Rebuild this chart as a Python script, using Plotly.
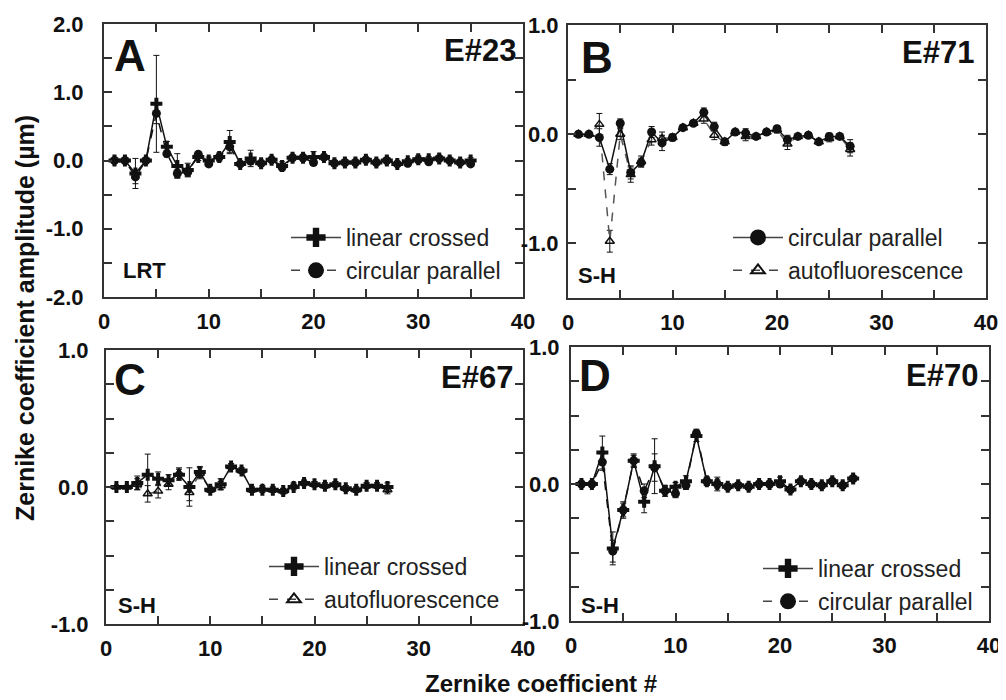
import plotly.graph_objects as go

W, H = 1006, 700          # window size
OFF = 8                   # default body margin of the html page
FW, FH = W - OFF, H - OFF  # figure size so that it fits the window exactly

# ---------------- data ----------------
A_x = list(range(1, 36))
A_lin = [0, 0, -0.19, 0, 0.83, 0.2, -0.08, -0.14, 0.05, 0.0, 0.05, 0.27, -0.05, 0.03, -0.04, 0.01, -0.08, 0.04,
         0.04, 0.05, 0.05, -0.04, -0.03, -0.03, 0.01, -0.03, 0.0, -0.05, -0.01, 0.02, 0.02, 0.03, 0.0, -0.03, 0.0]
A_lin_err = [0.01, 0.01, 0.22, 0.01, 0.71, 0.08, 0.18, 0.1, 0.05, 0.05, 0.06, 0.17, 0.03, 0.12, 0.03, 0.03, 0.06, 0.03,
             0.05, 0.08, 0.03, 0.03, 0.02, 0.03, 0.03, 0.02, 0.03, 0.03, 0.04, 0.05, 0.04, 0.02, 0.02, 0.02, 0.04]
A_circ = [0, 0, -0.24, 0, 0.69, 0.1, -0.19, -0.17, 0.09, -0.05, 0.05, 0.2, -0.05, -0.01, -0.04, 0.01, -0.1, 0.04,
          0.04, -0.03, 0.05, -0.04, -0.03, -0.03, 0.01, -0.03, 0.0, -0.05, -0.04, 0.01, -0.02, 0.03, 0.0, -0.03, -0.05]
A_circ_err = [0.01, 0.01, 0.1, 0.01, 0.15, 0.05, 0.06, 0.06, 0.04, 0.04, 0.04, 0.08, 0.03, 0.05, 0.03, 0.03, 0.05, 0.03,
              0.03, 0.04, 0.03, 0.03, 0.02, 0.03, 0.03, 0.02, 0.03, 0.03, 0.03, 0.03, 0.03, 0.02, 0.02, 0.02, 0.03]

B_x = list(range(1, 28))
B_circ = [0, 0, -0.03, -0.32, 0.1, -0.35, -0.26, 0.02, -0.08, -0.03, 0.06, 0.1, 0.2, 0.07, -0.07, 0.02, 0.01, -0.02,
          0.02, 0.05, -0.05, -0.02, -0.01, -0.07, -0.02, -0.02, -0.11]
B_circ_err = [0.01, 0.01, 0.08, 0.05, 0.04, 0.06, 0.04, 0.05, 0.07, 0.03, 0.02, 0.02, 0.04, 0.04, 0.03, 0.02, 0.04,
              0.02, 0.02, 0.03, 0.04, 0.02, 0.02, 0.02, 0.03, 0.02, 0.06]
B_auto = [0, 0, 0.09, -0.98, 0.0, -0.37, -0.25, -0.05, -0.04, -0.03, 0.06, 0.1, 0.14, -0.01, -0.07, 0.02, -0.02, -0.02,
          0.02, 0.04, -0.09, -0.02, -0.01, -0.07, -0.04, -0.02, -0.14]
B_auto_err = [0.01, 0.01, 0.1, 0.1, 0.05, 0.07, 0.05, 0.05, 0.06, 0.03, 0.02, 0.02, 0.04, 0.04, 0.03, 0.02, 0.04,
              0.02, 0.02, 0.03, 0.05, 0.02, 0.02, 0.02, 0.03, 0.02, 0.06]

C_x = list(range(1, 28))
C_lin = [0, 0, 0.03, 0.09, 0.06, 0.05, 0.09, 0.0, 0.11, -0.02, 0.02, 0.15, 0.12, -0.02, -0.02, -0.02, -0.03, 0.0,
         0.03, 0.02, 0.01, 0.02, -0.01, -0.02, 0.01, 0.01, 0.0]
C_lin_err = [0.01, 0.01, 0.05, 0.15, 0.05, 0.04, 0.04, 0.14, 0.04, 0.02, 0.04, 0.02, 0.02, 0.02, 0.02, 0.02, 0.02,
             0.02, 0.02, 0.02, 0.02, 0.02, 0.02, 0.02, 0.02, 0.02, 0.03]
C_auto = [0, 0, 0.02, -0.05, -0.03, 0.02, 0.1, -0.04, 0.1, -0.02, 0.01, 0.15, 0.12, -0.02, -0.01, -0.02, -0.03, 0.01,
          0.03, 0.02, 0.01, 0.02, -0.01, -0.02, 0.01, 0.01, -0.02]
C_auto_err = [0.01, 0.01, 0.04, 0.06, 0.05, 0.04, 0.04, 0.06, 0.04, 0.02, 0.03, 0.02, 0.02, 0.02, 0.02, 0.02, 0.02,
              0.02, 0.02, 0.02, 0.02, 0.02, 0.02, 0.02, 0.02, 0.02, 0.03]

D_x = list(range(1, 28))
D_lin = [0, 0, 0.23, -0.47, -0.19, 0.17, -0.13, 0.13, -0.05, -0.02, 0.02, 0.35, 0.02, 0.0, -0.02, -0.01, -0.02, 0.0,
         0.0, 0.02, -0.04, 0.02, 0.0, -0.01, 0.02, -0.01, 0.04]
D_lin_err = [0.01, 0.01, 0.12, 0.12, 0.06, 0.05, 0.08, 0.2, 0.04, 0.03, 0.04, 0.04, 0.03, 0.05, 0.02, 0.02, 0.02,
             0.02, 0.02, 0.03, 0.02, 0.02, 0.02, 0.02, 0.02, 0.02, 0.02]
D_circ = [0, 0, 0.16, -0.49, -0.19, 0.17, -0.05, 0.12, -0.05, -0.07, -0.01, 0.37, 0.02, 0.0, -0.02, -0.01, -0.02, 0.0,
          0.0, 0.0, -0.04, 0.02, 0.0, -0.01, 0.02, -0.01, 0.04]
D_circ_err = [0.01, 0.01, 0.06, 0.08, 0.05, 0.04, 0.05, 0.1, 0.03, 0.03, 0.03, 0.03, 0.03, 0.03, 0.02, 0.02, 0.02,
              0.02, 0.02, 0.02, 0.02, 0.02, 0.02, 0.02, 0.02, 0.02, 0.02]

# y tick labels per panel (hyphen-minus as in the original figure)
A_yticks = [-2, -1, 0, 1, 2]
B_yticks = [-1, 0, 1]
C_yticks = [-1, 0, 1]
D_yticks = [-1, 0, 1]

# ---------------- styling helpers ----------------
FONT = "Liberation Sans"
INK = "#111111"
AX = "#333333"


def px(x):
    """window pixel x -> paper fraction"""
    return (x - OFF) / FW


def py(y):
    """window pixel y -> paper fraction"""
    return 1 - (y - OFF) / FH


fig = go.Figure()

STY = {
    "lin": dict(symbol="cross", size=10, color=INK, line=dict(width=0)),
    "circ": dict(symbol="circle", size=9, color=INK, line=dict(width=0)),
    "auto": dict(symbol="triangle-up-open", size=8, color=INK, line=dict(width=1.5, color=INK)),
}
LEGSTY = {
    "lin": dict(symbol="cross", size=16, color=INK, line=dict(width=0)),
    "circ": dict(symbol="circle", size=16, color=INK, line=dict(width=0)),
    "auto": dict(symbol="triangle-up-open", size=12, color=INK, line=dict(width=2, color=INK)),
}
NAMES = {"lin": "linear crossed", "circ": "circular parallel", "auto": "autofluorescence"}


def add_series(x, y, err, kind, dash, ax_i, legname, rank, lcolor=INK):
    xa = "x" if ax_i == 1 else f"x{ax_i}"
    ya = "y" if ax_i == 1 else f"y{ax_i}"
    fig.add_trace(go.Scatter(
        x=x, y=y, mode="lines+markers", xaxis=xa, yaxis=ya, showlegend=False,
        line=dict(color=lcolor, width=1.5, dash=dash), marker=STY[kind],
        error_y=dict(type="data", array=err, visible=True, color=INK, thickness=1, width=3)))
    # legend entry
    fig.add_trace(go.Scatter(
        x=[None], y=[None], mode="lines+markers", xaxis=xa, yaxis=ya, name=NAMES[kind], legend=legname,
        legendrank=rank, line=dict(color="#444444", width=1.5, dash=dash), marker=LEGSTY[kind]))


add_series(A_x, A_lin, A_lin_err, "lin", "solid", 1, "legend", 1)
add_series(A_x, A_circ, A_circ_err, "circ", "dash", 1, "legend", 2)
add_series(B_x, B_auto, B_auto_err, "auto", "dash", 2, "legend2", 2, lcolor="#555555")
add_series(B_x, B_circ, B_circ_err, "circ", "solid", 2, "legend2", 1)
add_series(C_x, C_auto, C_auto_err, "auto", "dash", 3, "legend3", 2, lcolor="#555555")
add_series(C_x, C_lin, C_lin_err, "lin", "solid", 3, "legend3", 1)
add_series(D_x, D_circ, D_circ_err, "circ", "dash", 4, "legend4", 2)
add_series(D_x, D_lin, D_lin_err, "lin", "solid", 4, "legend4", 1)

# panel boxes in window px: (left, right, top, bottom)
BOX = {
    1: (104, 523, 24, 297),
    2: (568, 986, 25, 298),
    3: (106, 523, 350, 624),
    4: (571, 989, 347, 621),
}
YR = {1: [-2, 2], 2: [-1.5, 1.0], 3: [-1, 1], 4: [-1, 1]}
YTICKS = {1: A_yticks, 2: B_yticks, 3: C_yticks, 4: D_yticks}
YMINOR = {1: 0.5, 2: 0.5, 3: 0.25, 4: 0.25}
YSTAND = {1: 14, 2: 3, 3: 11, 4: 5}

tickfont = dict(family=FONT, size=22, color=INK, weight="bold")
common = dict(showline=True, linecolor=AX, linewidth=2, mirror="ticks", ticks="inside", ticklen=8,
              tickwidth=2, tickcolor=AX, showgrid=False, zeroline=False, tickfont=tickfont,
              automargin=False)

for i, (l, r, t, b) in BOX.items():
    sx = "" if i == 1 else str(i)
    fig.layout[f"xaxis{sx}"] = dict(
        domain=[px(l), px(r)], anchor=f"y{sx}", range=[0, 40], dtick=10, tick0=0,
        minor=dict(dtick=5, ticks="inside", ticklen=8, tickwidth=2, tickcolor=AX),
        ticklabelstandoff=4, **common)
    tv = YTICKS[i]
    fig.layout[f"yaxis{sx}"] = dict(
        domain=[py(b), py(t)], anchor=f"x{sx}", range=YR[i],
        tickmode="array", tickvals=tv, ticktext=[f"{v:.1f}" for v in tv],
        minor=dict(dtick=YMINOR[i], tick0=0, ticks="inside", ticklen=8, tickwidth=2, tickcolor=AX),
        ticklabelstandoff=YSTAND[i], **common)


def legend_at(xl, yt):
    return dict(x=px(xl), y=py(yt), xanchor="left", yanchor="top", bgcolor="rgba(0,0,0,0)",
                font=dict(family=FONT, size=23, color="#222222"), itemwidth=50, tracegroupgap=0,
                itemsizing="trace", traceorder="normal")


fig.update_layout(
    template="none",
    width=FW, height=FH, margin=dict(l=0, r=0, t=0, b=0, autoexpand=False),
    paper_bgcolor="white", plot_bgcolor="rgba(0,0,0,0)",
    legend=legend_at(286, 216),
    legend2=legend_at(728, 216),
    legend3=legend_at(264, 545),
    legend4=legend_at(758, 547),
)

ann = []


def text(x, y, s, size, xanchor="left", bold=True, color=INK, angle=0):
    ann.append(dict(x=px(x), y=py(y), xref="paper", yref="paper", text=f"<b>{s}</b>" if bold else s,
                    showarrow=False, xanchor=xanchor, yanchor="middle", textangle=angle,
                    font=dict(family=FONT, size=size, color=color)))


# panel letters
text(112, 55, "A", 44)
text(579, 58, "B", 44)
text(112, 379, "C", 44)
text(577, 376, "D", 44)
# eye numbers
text(518, 50, "E#23", 31, xanchor="right")
text(976, 52, "E#71", 31, xanchor="right")
text(515, 377, "E#67", 31, xanchor="right")
text(980, 375, "E#70", 31, xanchor="right")
# method labels
text(121, 270, "LRT", 22)
text(576, 275, "S-H", 22)
text(116, 605, "S-H", 22)
text(579, 605, "S-H", 22)
# axis titles
text(541, 683, "Zernike coefficient #", 24, xanchor="center")
text(25, 318, "Zernike coefficient amplitude (µm)", 25, xanchor="center", angle=-90)

fig.update_layout(annotations=ann)
fig.write_html("out.html")
